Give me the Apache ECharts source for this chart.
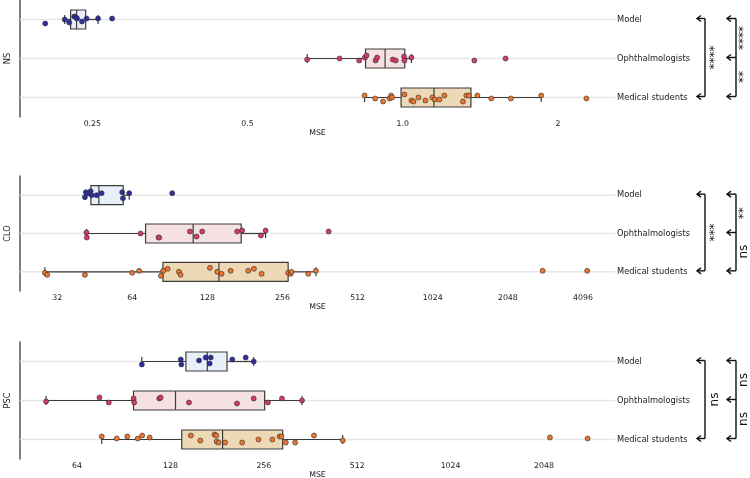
<!DOCTYPE html>
<html><head><meta charset="utf-8">
<script src="https://cdn.jsdelivr.net/npm/echarts@6/dist/echarts.min.js"></script>
<style>html,body{margin:0;padding:0;background:#fff}#c{width:750px;height:478px}</style>
</head><body><div id="c"></div>
<script>
const categories = ['Model', 'Ophthalmologists', 'Medical students'];
const panelNames = ['NS', 'CLO', 'PSC'];
const xName = 'MSE';

// ---------- NS ----------
const nsModel = [0.2026, 0.2210, 0.2255, 0.2306, 0.2325, 0.2335, 0.2387, 0.2437, 0.2565, 0.2731];
const nsModelJitter = [4, 0, 3, -3, -2, -1, 2, -1, -1, -1];
const nsOph = [0.6526, 0.7541, 0.8231, 0.8441, 0.8506, 0.8856, 0.8918, 0.9564, 0.9693, 1.0058, 1.0076, 1.0395, 1.3766, 1.5826];
const nsOphJitter = [1, 0, 2, -1, -3, 2, -1, 1, 2, -2, 2, -1, 2, 0];
const nsMed = [0.8432, 0.8839, 0.9159, 0.9424, 0.9492, 0.9534, 1.0076, 1.0395, 1.0489, 1.0725, 1.1065, 1.1415, 1.1533, 1.1777, 1.2043, 1.3083, 1.3283, 1.3438, 1.3952, 1.4849, 1.6204, 1.8558, 2.2711];
const nsMedJitter = [-2, 1, 4, 1, -2, 0, -3, 3, 4, 0, 3, 0, 2, 2, -2, 4, -2, -2, -2, 1, 1, -2, 1];
// box stats: [whisker low, Q1, median, Q3, whisker high]
const nsBoxModel = [0.2210, 0.2269, 0.2330, 0.2427, 0.2565];
const nsBoxOph = [0.6526, 0.8469, 0.9241, 1.009, 1.0395];
const nsBoxMed = [0.8432, 0.9925, 1.1497, 1.3558, 1.8558];
const nsTicks = [0.25, 0.5, 1, 2];
const nsTickLabels = ['0.25', '0.5', '1.0', '2'];
const nsRange = [0.181, 2.58];
const nsSignif = ['****', '****', '**']; // Model–Med, Model–Oph, Oph–Med

// ---------- CLO ----------
const cloModel = [41.32, 41.70, 42.60, 43.55, 43.96, 46.03, 48.20, 58.3, 58.7, 62.2, 92.5];
const cloModelJitter = [2, -3, -2, -4, 0, 0, -2, -3, 3, -2, -2];
const cloOph = [41.9, 42.05, 69.07, 81.56, 82.0, 108.9, 115.8, 121.97, 168.5, 176.4, 209.7, 219.0, 391.7];
const cloOphJitter = [-1, 4, 0, 4, 4, -2, 3, -2, -2, -3, 2, -3, -2];
const cloMed = [28.57, 29.18, 41.32, 63.94, 68.18, 83.32, 85.11, 88.66, 98.37, 99.92, 130.99, 140.1, 145.9, 158.6, 186.5, 196.6, 211.1, 269.6, 275.6, 278.2, 324.5, 348.5, 2823, 4260];
const cloMedJitter = [1, 3, 3, 1, -1, 4, -1, -3, 0, 3, -4, 0, 2, -1, -1, -3, 2, 1, 2, 0, 2, -1, -1, -1];
const cloBoxModel = [41.3, 43.67, 47.0, 58.83, 62.2];
const cloBoxOph = [41.97, 72.33, 112.2, 174.8, 219.0];
const cloBoxMed = [28.57, 84.88, 142.3, 269.6, 348.5];
const cloTicks = [32, 64, 128, 256, 512, 1024, 2048, 4096];
const cloTickLabels = ['32', '64', '128', '256', '512', '1024', '2048', '4096'];
const cloRange = [22.7, 5505];
const cloSignif = ['***', '**', 'ns'];

// ---------- PSC ----------
const pscModel = [103.5, 138.2, 138.8, 158.3, 166.3, 171.3, 172.6, 202.6, 223.8, 237.5];
const pscModelJitter = [3, -2, 3, -1, -4, 2, -4, -2, -4, 0];
const pscOph = [50.85, 75.6, 80.97, 97.4, 97.8, 117.8, 119.0, 146.9, 209.8, 237.5, 264.0, 292.9, 339.9];
const pscOphJitter = [1, -3, 2, -2, 2, -2, -3, 2, 3, -2, 2, -2, 0];
const pscMed = [76.86, 85.9, 92.9, 100.4, 103.8, 109.7, 148.9, 159.8, 177.5, 179.8, 180.4, 182.9, 192.1, 218.0, 246.0, 272.9, 288.0, 291.9, 301.4, 323.1, 371.5, 459.7, 2141, 2832];
const pscMedJitter = [-3, -1, -3, -1, -4, -2, -4, 1, -5, -4, 2, 3, 3, 3, 0, 0, -3, -3, 3, 3, -4, 1, -2, -1];
const pscBoxModel = [103.5, 143.6, 168.3, 194.8, 237.5];
const pscBoxOph = [50.85, 97.3, 132.9, 257.6, 339.9];
const pscBoxMed = [76.86, 139.2, 188.5, 294.5, 459.7];
const pscTicks = [64, 128, 256, 512, 1024, 2048];
const pscTickLabels = ['64', '128', '256', '512', '1024', '2048'];
const pscRange = [41.9, 3470];
const pscSignif = ['ns', 'ns', 'ns'];

// ---------- build ----------
const panels = [
  { name: panelNames[0], pts: [nsModel, nsOph, nsMed], jit: [nsModelJitter, nsOphJitter, nsMedJitter], boxes: [nsBoxModel, nsBoxOph, nsBoxMed], ticks: nsTicks, labels: nsTickLabels, range: nsRange, signif: nsSignif },
  { name: panelNames[1], pts: [cloModel, cloOph, cloMed], jit: [cloModelJitter, cloOphJitter, cloMedJitter], boxes: [cloBoxModel, cloBoxOph, cloBoxMed], ticks: cloTicks, labels: cloTickLabels, range: cloRange, signif: cloSignif },
  { name: panelNames[2], pts: [pscModel, pscOph, pscMed], jit: [pscModelJitter, pscOphJitter, pscMedJitter], boxes: [pscBoxModel, pscBoxOph, pscBoxMed], ticks: pscTicks, labels: pscTickLabels, range: pscRange, signif: pscSignif }
];

const FONT = 'DejaVu Sans';
const TXT = '#1a1a1a';
const pointColors = ['#2e2ea3', '#d33b6b', '#ec7630'];
const boxFills = ['#e9eff9', '#f5e1e1', '#eed9b6'];
const edge = '#3c3c3c';
const gridTops = [0, 176, 342];
const gridHeights = [117, 115, 117];

const grid = [], xAxis = [], yAxis = [], series = [];
const scatterIdx = [];

panels.forEach((P, p) => {
  grid.push({ left: 20, right: 135, top: gridTops[p], height: gridHeights[p], containLabel: false, outerBoundsMode: 'none' });
  xAxis.push({
    gridIndex: p, type: 'log', logBase: 2, min: P.range[0], max: P.range[1],
    axisLine: { lineStyle: { color: '#555', width: 1.5 } },
    axisTick: { show: false }, splitLine: { show: false }, minorTick: { show: false },
    axisLabel: {
      fontSize: 7.8, color: TXT, fontFamily: FONT, margin: 3,
      formatter: (v) => {
        const i = P.ticks.findIndex(t => Math.abs(Math.log2(t) - Math.log2(v)) < 1e-6);
        return i >= 0 ? P.labels[i] : '';
      }
    },
    name: xName, nameLocation: 'middle', nameGap: 9,
    nameTextStyle: { fontSize: 7.8, color: TXT, fontFamily: FONT }
  });
  yAxis.push({
    gridIndex: p, type: 'category', data: categories, inverse: true, position: 'right',
    axisLine: { show: false }, axisTick: { show: false }, splitLine: { show: false },
    axisLabel: { align: 'left', margin: 2, fontSize: 8.3, color: TXT, fontFamily: FONT }
  });
  yAxis.push({
    gridIndex: p, type: 'category', data: categories, inverse: true, position: 'left',
    axisLine: { show: true, lineStyle: { color: '#555', width: 1.5 } },
    axisTick: { show: false }, axisLabel: { show: false }, splitLine: { show: false },
    name: P.name, nameLocation: 'middle', nameGap: 8, nameRotate: 90,
    nameTextStyle: { fontSize: 8.3, color: TXT, fontFamily: FONT }
  });

  // row grid lines
  series.push({
    type: 'custom', xAxisIndex: p, yAxisIndex: 2 * p, silent: true, z: 1,
    data: categories.map((c, i) => [P.range[0], i]),
    encode: { x: 0, y: 1 },
    renderItem: (params, api) => {
      const pt = api.coord([api.value(0), api.value(1)]);
      const cs = params.coordSys;
      return { type: 'line', shape: { x1: cs.x, y1: pt[1], x2: cs.x + cs.width, y2: pt[1] },
        style: { stroke: '#e6e6e6', lineWidth: 1.5 } };
    }
  });

  // boxes
  series.push({
    type: 'custom', xAxisIndex: p, yAxisIndex: 2 * p, silent: true, z: 2,
    data: P.boxes.map((b, i) => [i].concat(b)),
    encode: { y: 0, x: [1, 2, 3, 4, 5] },
    renderItem: (params, api) => {
      const ci = api.value(0);
      const lo = api.coord([api.value(1), ci]);
      const q1 = api.coord([api.value(2), ci]);
      const md = api.coord([api.value(3), ci]);
      const q3 = api.coord([api.value(4), ci]);
      const hi = api.coord([api.value(5), ci]);
      const y = lo[1], h = 19, cap = 4.5;
      const ls = { stroke: edge, lineWidth: 1.2 };
      return { type: 'group', children: [
        { type: 'line', shape: { x1: lo[0], y1: y, x2: q1[0], y2: y }, style: ls },
        { type: 'line', shape: { x1: q3[0], y1: y, x2: hi[0], y2: y }, style: ls },
        { type: 'line', shape: { x1: lo[0], y1: y - cap, x2: lo[0], y2: y + cap }, style: ls },
        { type: 'line', shape: { x1: hi[0], y1: y - cap, x2: hi[0], y2: y + cap }, style: ls },
        { type: 'rect', shape: { x: q1[0], y: y - h / 2, width: q3[0] - q1[0], height: h },
          style: { fill: boxFills[ci], stroke: edge, lineWidth: 1.2 } },
        { type: 'line', shape: { x1: md[0], y1: y - h / 2, x2: md[0], y2: y + h / 2 }, style: ls }
      ] };
    }
  });

  // points
  P.pts.forEach((vals, i) => {
    scatterIdx[p] = scatterIdx[p] == null ? series.length : scatterIdx[p];
    series.push({
      type: 'scatter', xAxisIndex: p, yAxisIndex: 2 * p, z: 3, silent: true,
      symbolSize: 5,
      itemStyle: { color: pointColors[i], borderColor: '#2a2a2a', borderWidth: 0.6, opacity: 1 },
      data: vals.map((v, k) => ({ value: [v, i], symbolOffset: [0, P.jit[i][k]] }))
    });
  });
});

const chart = echarts.init(document.getElementById('c'), null, { renderer: 'canvas' });
chart.setOption({
  animation: false,
  textStyle: { fontFamily: FONT },
  grid, xAxis, yAxis, series
});

// significance brackets
const graphic = [];
const lineStyle = { stroke: '#111', lineWidth: 1.4, fill: null };
function arm(xLine, xTip, y) {
  graphic.push({ type: 'polyline', shape: { points: [[xLine, y], [xTip, y]] }, style: lineStyle, silent: true });
  graphic.push({ type: 'polyline', shape: { points: [[xTip + 4, y - 3], [xTip, y], [xTip + 4, y + 3]] }, style: lineStyle, silent: true });
}
function vline(x, y1, y2) {
  graphic.push({ type: 'line', shape: { x1: x, y1: y1, x2: x, y2: y2 }, style: lineStyle, silent: true });
}
function label(x, y, t) {
  graphic.push({ type: 'text', x: x, y: y, rotation: Math.PI / 2, silent: true,
    style: { text: t, fontSize: 12, fontFamily: FONT, fill: '#111', align: 'center', verticalAlign: 'middle' } });
}
panels.forEach((P, p) => {
  const ys = categories.map((c, i) => chart.convertToPixel({ seriesIndex: scatterIdx[p] }, [P.range[0], i])[1] - 1);
  // Model – Medical students
  const xa = 705, ta = 697;
  vline(xa, ys[0], ys[2]); arm(xa, ta, ys[0]); arm(xa, ta, ys[2]);
  label(715, (ys[0] + ys[2]) / 2, P.signif[0]);
  // Model – Ophthalmologists, Ophthalmologists – Medical students
  const xb = 736, tb = 727;
  vline(xb, ys[0], ys[2]); arm(xb, tb, ys[0]); arm(xb, tb, ys[1]); arm(xb, tb, ys[2]);
  label(744, (ys[0] + ys[1]) / 2, P.signif[1]);
  label(744, (ys[1] + ys[2]) / 2, P.signif[2]);
});
chart.setOption({ graphic });
</script>
</body></html>
